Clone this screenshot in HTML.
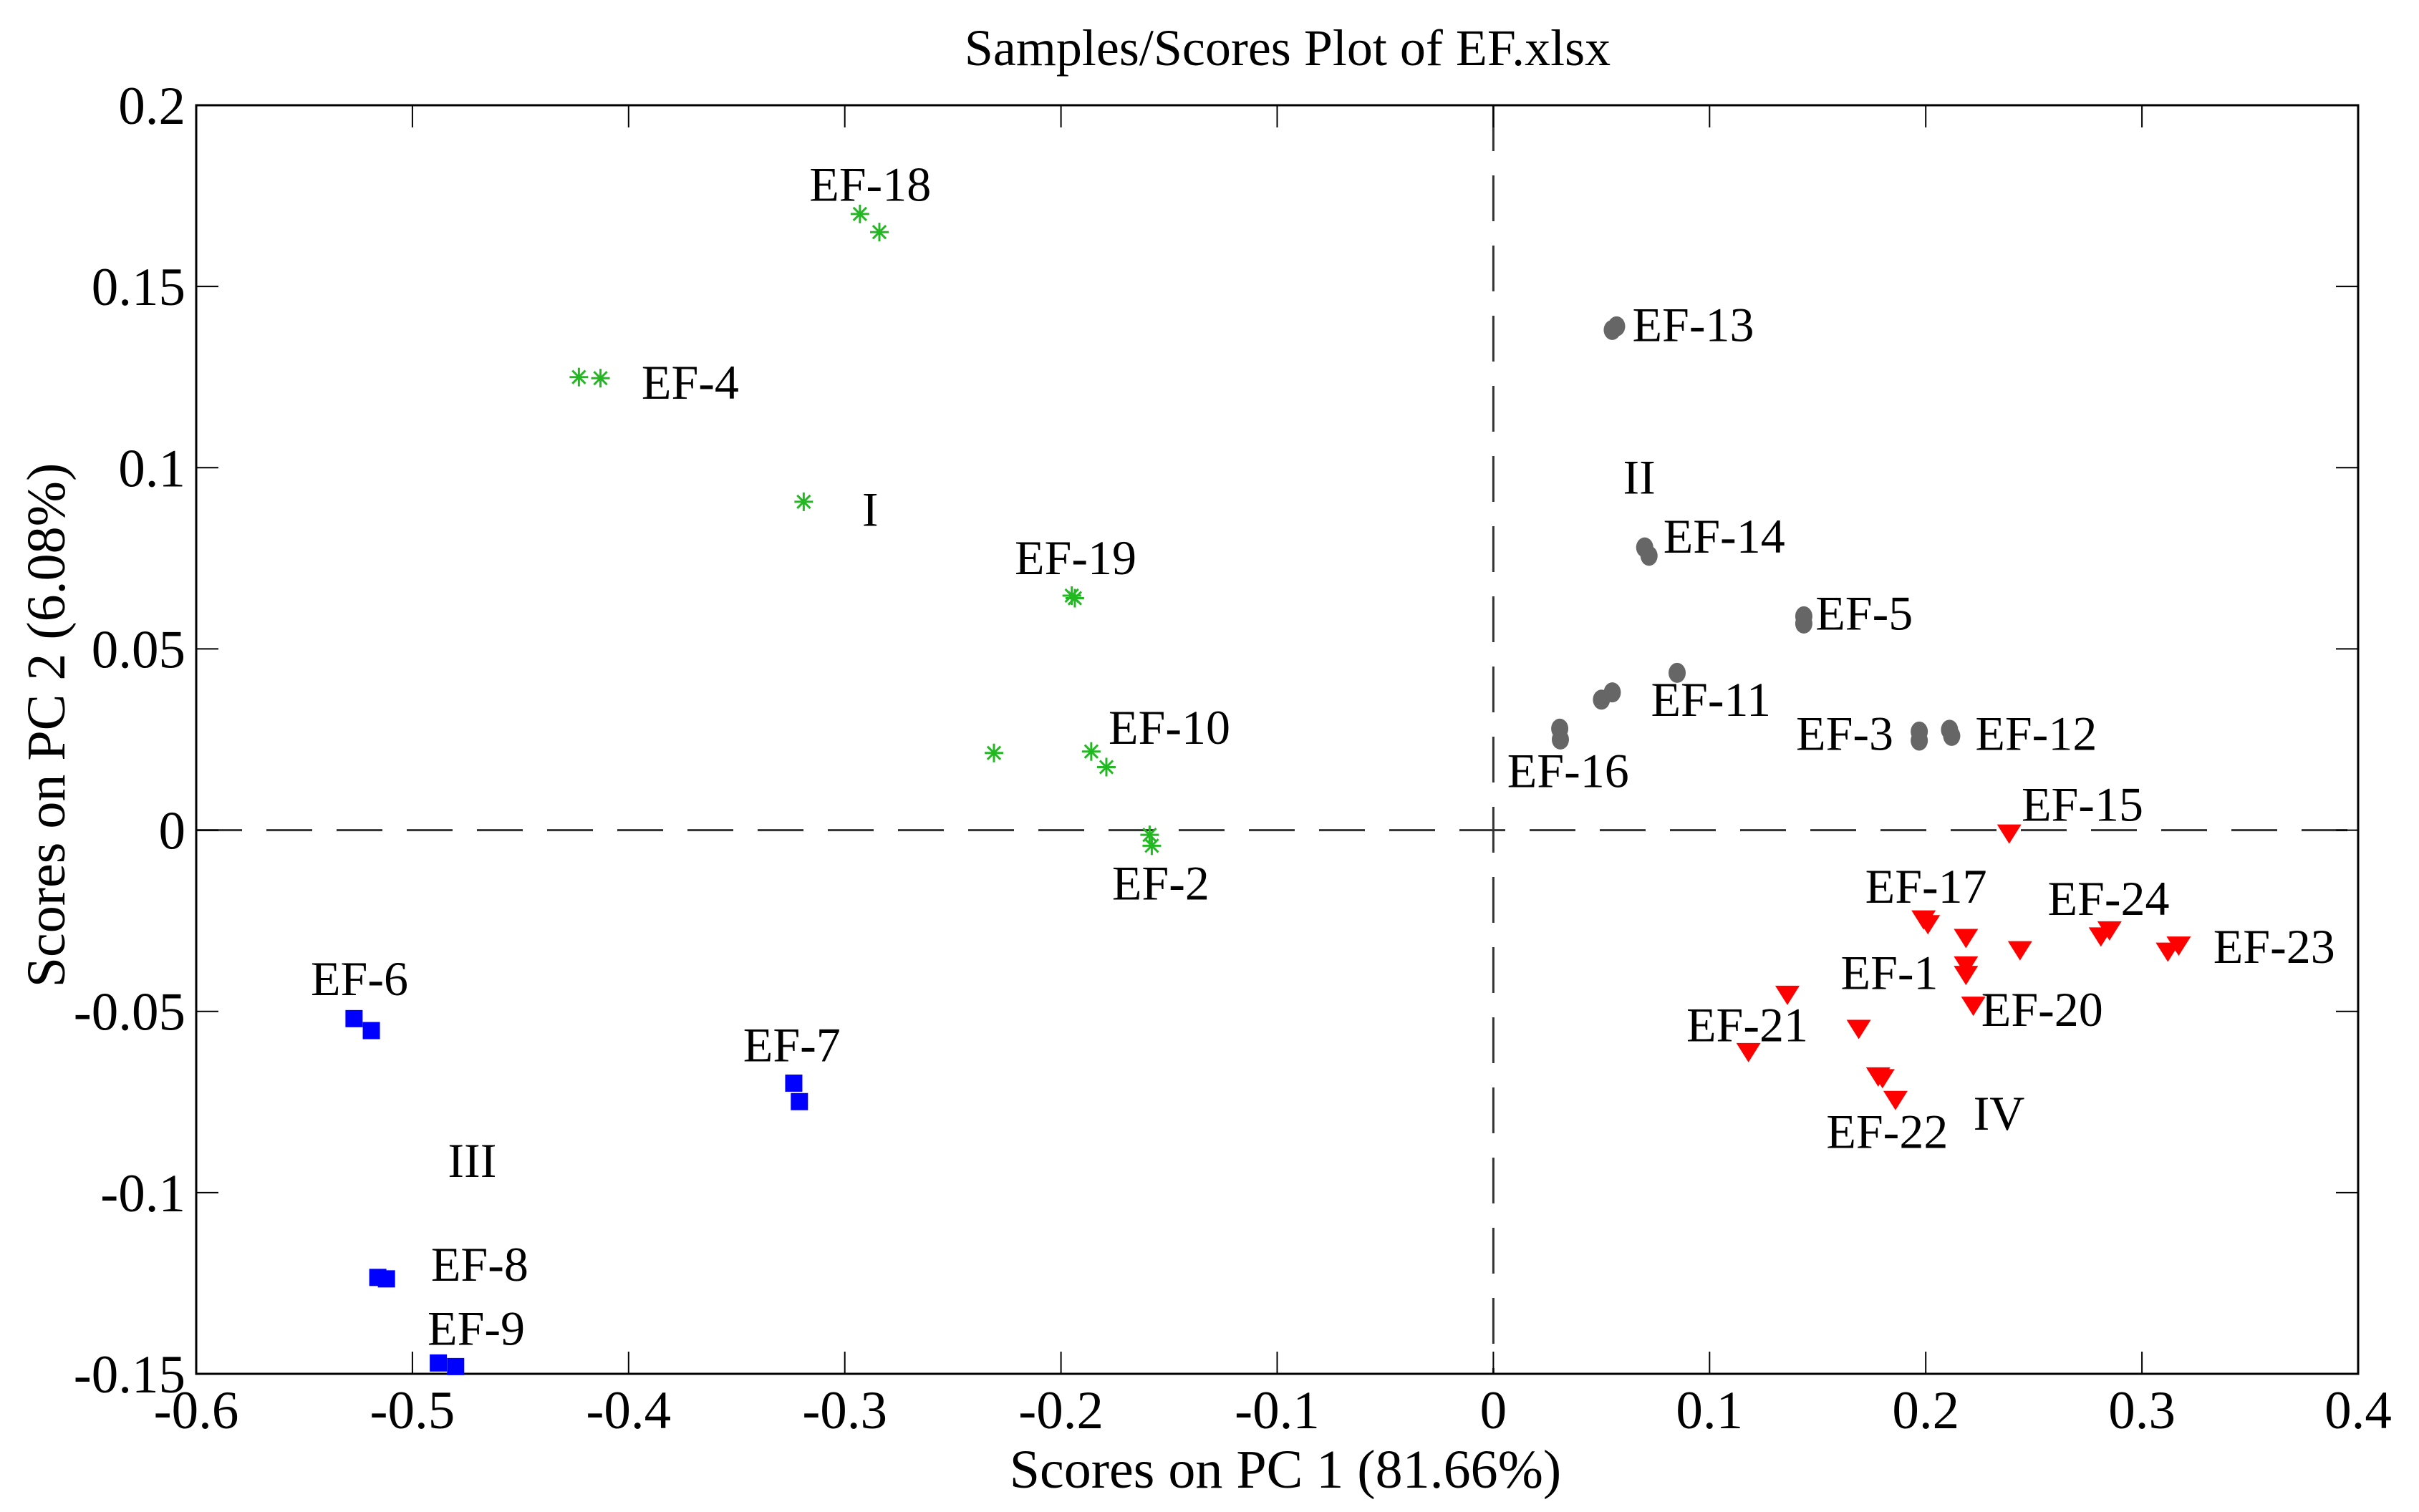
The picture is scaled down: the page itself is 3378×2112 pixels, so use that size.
<!DOCTYPE html>
<html><head><meta charset="utf-8"><style>
html,body{margin:0;padding:0;background:#fff;}
svg{display:block;font-family:"Liberation Serif",serif;}
</style></head><body>
<svg id="chart" width="3378" height="2112" viewBox="0 0 3378 2112" xmlns="http://www.w3.org/2000/svg">
<rect width="3378" height="2112" fill="#fff"/>
<text x="1798" y="91" font-size="72" text-anchor="middle">Samples/Scores Plot of EF.xlsx</text>
<text x="1795" y="2078" font-size="76" text-anchor="middle">Scores on PC 1 (81.66%)</text>
<text transform="translate(90,1013) rotate(-90)" font-size="76" text-anchor="middle">Scores on PC 2 (6.08%)</text>
<g id="grid"></g><g id="marks"></g><g id="labels"></g>
</svg>
<script>
const xTicks=[-0.6,-0.5,-0.4,-0.3,-0.2,-0.1,0,0.1,0.2,0.3,0.4];
const yTicks=[0.2,0.15,0.1,0.05,0,-0.05,-0.1,-0.15];
const xTickLabels=["-0.6","-0.5","-0.4","-0.3","-0.2","-0.1","0","0.1","0.2","0.3","0.4"];
const yTickLabels=["0.2","0.15","0.1","0.05","0","-0.05","-0.1","-0.15"];
const groupIX=[-0.293,-0.284,-0.423,-0.413,-0.319,-0.195,-0.1936,-0.231,-0.186,-0.179,-0.159,-0.158];
const groupIY=[0.170,0.165,0.125,0.1247,0.0906,0.0647,0.064,0.0213,0.0217,0.0174,-0.0013,-0.0043];
const groupIIX=[0.055,0.057,0.070,0.072,0.1436,0.1436,0.085,0.050,0.055,0.0307,0.031,0.197,0.197,0.211,0.212];
const groupIIY=[0.138,0.139,0.078,0.0757,0.059,0.057,0.0434,0.036,0.038,0.028,0.025,0.0272,0.0247,0.0277,0.026];
const groupIIIX=[-0.527,-0.519,-0.3236,-0.321,-0.516,-0.512,-0.488,-0.48];
const groupIIIY=[-0.052,-0.0553,-0.0698,-0.0749,-0.1234,-0.1238,-0.147,-0.148];
const groupIVX=[0.2386,0.199,0.201,0.2186,0.2436,0.281,0.285,0.312,0.317,0.2186,0.2186,0.222,0.136,0.169,0.118,0.178,0.180,0.186];
const groupIVY=[-0.001,-0.0247,-0.026,-0.0298,-0.0332,-0.0294,-0.0277,-0.0336,-0.0319,-0.0374,-0.04,-0.0485,-0.0455,-0.0549,-0.0613,-0.068,-0.0685,-0.0745];
const labelText=["EF-18","EF-4","I","EF-19","EF-10","EF-2","EF-13","II","EF-14","EF-5","EF-11","EF-16","EF-3","EF-12","EF-15","EF-17","EF-24","EF-23","EF-1","EF-20","EF-21","EF-22","IV","EF-6","EF-7","III","EF-8","EF-9"];
const labelX=[-0.3164,-0.394,-0.292,-0.2214,-0.178,-0.1764,0.0643,0.06,0.0786,0.149,0.0729,0.0064,0.14,0.2229,0.2443,0.172,0.2564,0.333,0.1607,0.2257,0.0893,0.154,0.222,-0.547,-0.347,-0.4836,-0.4914,-0.493];
const labelY=[0.1736,0.119,0.084,0.0706,0.0238,-0.0191,0.1349,0.0928,0.0766,0.0553,0.0315,0.0119,0.0221,0.0221,0.0026,-0.02,-0.0234,-0.0366,-0.0438,-0.054,-0.0583,-0.0877,-0.0826,-0.0455,-0.0638,-0.0957,-0.1243,-0.142];

const L=274,R=3293,T=147,B=1919,xMin=-0.6,xMax=0.4,yMin=-0.15,yMax=0.2;
function sx(v){return L+(v-xMin)/(xMax-xMin)*(R-L);}
function sy(v){return B-(v-yMin)/(yMax-yMin)*(B-T);}
const NS="http://www.w3.org/2000/svg";
function mk(tag,attrs,parent){const e=document.createElementNS(NS,tag);for(const k in attrs)e.setAttribute(k,attrs[k]);parent.appendChild(e);return e;}
const grid=document.getElementById('grid'),marks=document.getElementById('marks'),labels=document.getElementById('labels');

let e;
e=mk('line',{x1:sx(0),y1:T,x2:sx(0),y2:B,stroke:'#333','stroke-width':3,'stroke-dasharray':'64 34'},grid);


e=mk('line',{x1:L,y1:sy(0),x2:R,y2:sy(0),stroke:'#333','stroke-width':3,'stroke-dasharray':'64 34'},grid);


e=mk('rect',{x:L,y:T,width:R-L,height:B-T,fill:'none',stroke:'#000','stroke-width':3},grid);



xTicks.forEach((v,i)=>{
  const x=sx(v);
  e=mk('line',{x1:x,y1:B,x2:x,y2:B-31,stroke:'#000','stroke-width':2},grid);
  
  
  e=mk('line',{x1:x,y1:T,x2:x,y2:T+31,stroke:'#000','stroke-width':2},grid);
  
  
  e=mk('text',{x:x,y:1995,'font-size':75,'text-anchor':'middle'},grid);
  e.textContent=xTickLabels[i];
  
  
});
yTicks.forEach((v,i)=>{
  const y=sy(v);
  e=mk('line',{x1:L,y1:y,x2:L+31,y2:y,stroke:'#000','stroke-width':2},grid);
  
  
  e=mk('line',{x1:R,y1:y,x2:R-31,y2:y,stroke:'#000','stroke-width':2},grid);
  
  
  e=mk('text',{x:259,y:y+26,'font-size':75,'text-anchor':'end'},grid);
  e.textContent=yTickLabels[i];
  
  
});

groupIX.forEach((v,i)=>{
  const x=sx(v),y=sy(groupIY[i]),r=13;
  const g=mk('g',{stroke:'#22b822','stroke-width':3},marks);
  
  
  mk('line',{x1:x-r,y1:y,x2:x+r,y2:y},g);
  mk('line',{x1:x,y1:y-r,x2:x,y2:y+r},g);
  mk('line',{x1:x-r*0.7,y1:y-r*0.7,x2:x+r*0.7,y2:y+r*0.7},g);
  mk('line',{x1:x-r*0.7,y1:y+r*0.7,x2:x+r*0.7,y2:y-r*0.7},g);
});
groupIIX.forEach((v,i)=>{
  e=mk('ellipse',{cx:sx(v),cy:sy(groupIIY[i]),rx:12,ry:14,fill:'#666'},marks);
  
  
});
groupIIIX.forEach((v,i)=>{
  e=mk('rect',{x:sx(v)-12,y:sy(groupIIIY[i])-12,width:24,height:24,fill:'#0000ff'},marks);
  
  
});
groupIVX.forEach((v,i)=>{
  const x=sx(v),y=sy(groupIVY[i]);
  e=mk('polygon',{points:`${x-17},${y-13} ${x+17},${y-13} ${x},${y+14}`,fill:'#ff0000'},marks);
  
  
});
labelText.forEach((t,i)=>{
  e=mk('text',{x:sx(labelX[i]),y:sy(labelY[i]),'font-size':68},labels);
  e.textContent=t;
  
  
});
</script>
</body></html>
